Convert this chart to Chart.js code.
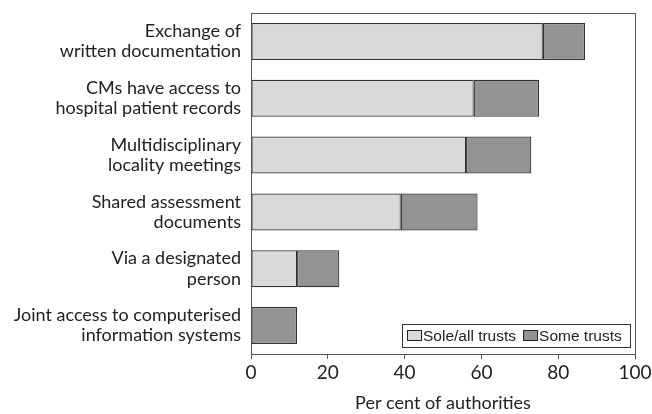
<!DOCTYPE html>
<html>
<head>
<meta charset="utf-8">
<script src="https://cdn.jsdelivr.net/npm/chart.js@4"></script>
<style>
  html, body { margin: 0; padding: 0; background: #fff; }
  #wrap { width: 652px; height: 414px; }
</style>
</head>
<body>
<div id="wrap"><canvas id="chart_report" width="652" height="414"></canvas></div>
<script>
// categories, top to bottom
const categories = [
    ['Exchange of', 'written documentation'],
    ['CMs have access to', 'hospital patient records'],
    ['Multidisciplinary', 'locality meetings'],
    ['Shared assessment', 'documents'],
    ['Via a designated', 'person'],
    ['Joint access to computerised', 'information systems']
];
const soleAll = [76, 58, 56, 39, 12, 0];
const someTrusts = [11, 17, 17, 20, 11, 12];
const xTicks = [0, 20, 40, 60, 80, 100];

const gillLike = 'Lato, "Open Sans", sans-serif';

// frame round the plot + legend box in the bottom right corner
const framePlugin = {
    id: 'frame',
    afterDatasetsDraw(chart) {
        const c = chart.ctx;
        const a = chart.chartArea;
        c.save();
        c.strokeStyle = '#555';
        c.lineWidth = 1;
        c.strokeRect(a.left + 0.5, a.top + 0.5, a.right - a.left, a.bottom - a.top);

        // legend
        const bx = 402, by = 324, bw = 228, bh = 23;
        c.fillStyle = '#fff';
        c.fillRect(bx, by, bw, bh);
        c.strokeStyle = '#333';
        c.strokeRect(bx + 0.5, by + 0.5, bw, bh);
        c.font = '15.5px "Liberation Sans", Arial, sans-serif';
        c.textBaseline = 'middle';
        let x = bx + 5;
        chart.data.datasets.forEach(function (ds) {
            c.fillStyle = ds.backgroundColor;
            c.fillRect(x, by + 6, 15, 11);
            c.strokeStyle = '#222';
            c.strokeRect(x + 0.5, by + 6.5, 14, 10);
            c.fillStyle = '#222';
            c.fillText(ds.label, x + 16, by + 12.5);
            x += 16 + c.measureText(ds.label).width + 7;
        });
        c.restore();
    }
};

let ctx = document.getElementById('chart_report').getContext('2d');
const myBarChart = new Chart(ctx, {
    type: 'bar',
    data: {
        labels: categories,
        datasets: [{
            label: 'Sole/all trusts',
            data: soleAll,
            backgroundColor: '#d9d9db',
            borderColor: '#333',
            borderWidth: 1.2,
            borderSkipped: false
        }, {
            label: 'Some trusts',
            data: someTrusts,
            backgroundColor: '#939396',
            borderColor: '#333',
            borderWidth: 1.2,
            borderSkipped: false
        }]
    },
    options: {
        indexAxis: 'y',
        responsive: false,
        animation: false,
        layout: { padding: { top: 13, right: 17, bottom: 0, left: 0 } },
        plugins: {
            legend: { display: false },
            tooltip: { enabled: false }
        },
        datasets: {
            bar: { categoryPercentage: 1, barPercentage: 0.65 }
        },
        scales: {
            x: {
                stacked: true,
                min: 0,
                max: 100,
                afterBuildTicks: function (scale) {
                    scale.ticks = xTicks.map(function (v) { return { value: v }; });
                },
                afterFit: function (scale) {
                    scale.height = 60;
                    scale.paddingLeft = 0;
                    scale.paddingRight = 0;
                },
                grid: {
                    drawOnChartArea: false,
                    drawTicks: true,
                    tickLength: 5,
                    color: '#555'
                },
                border: { display: true, color: '#555' },
                ticks: {
                    color: '#222',
                    padding: 2,
                    font: { family: gillLike, size: 19 }
                },
                title: {
                    display: true,
                    text: 'Per cent of authorities',
                    color: '#222',
                    padding: { top: 8, bottom: 0 },
                    font: { family: gillLike, size: 18 }
                }
            },
            y: {
                stacked: true,
                afterFit: function (scale) {
                    scale.width = 251;
                    scale.paddingTop = 0;
                    scale.paddingBottom = 0;
                },
                grid: { display: false },
                border: { display: true, color: '#555' },
                ticks: {
                    color: '#222',
                    padding: 2,
                    font: { family: gillLike, size: 18, lineHeight: 1.12 }
                }
            }
        }
    },
    plugins: [framePlugin]
});
</script>
</body>
</html>
